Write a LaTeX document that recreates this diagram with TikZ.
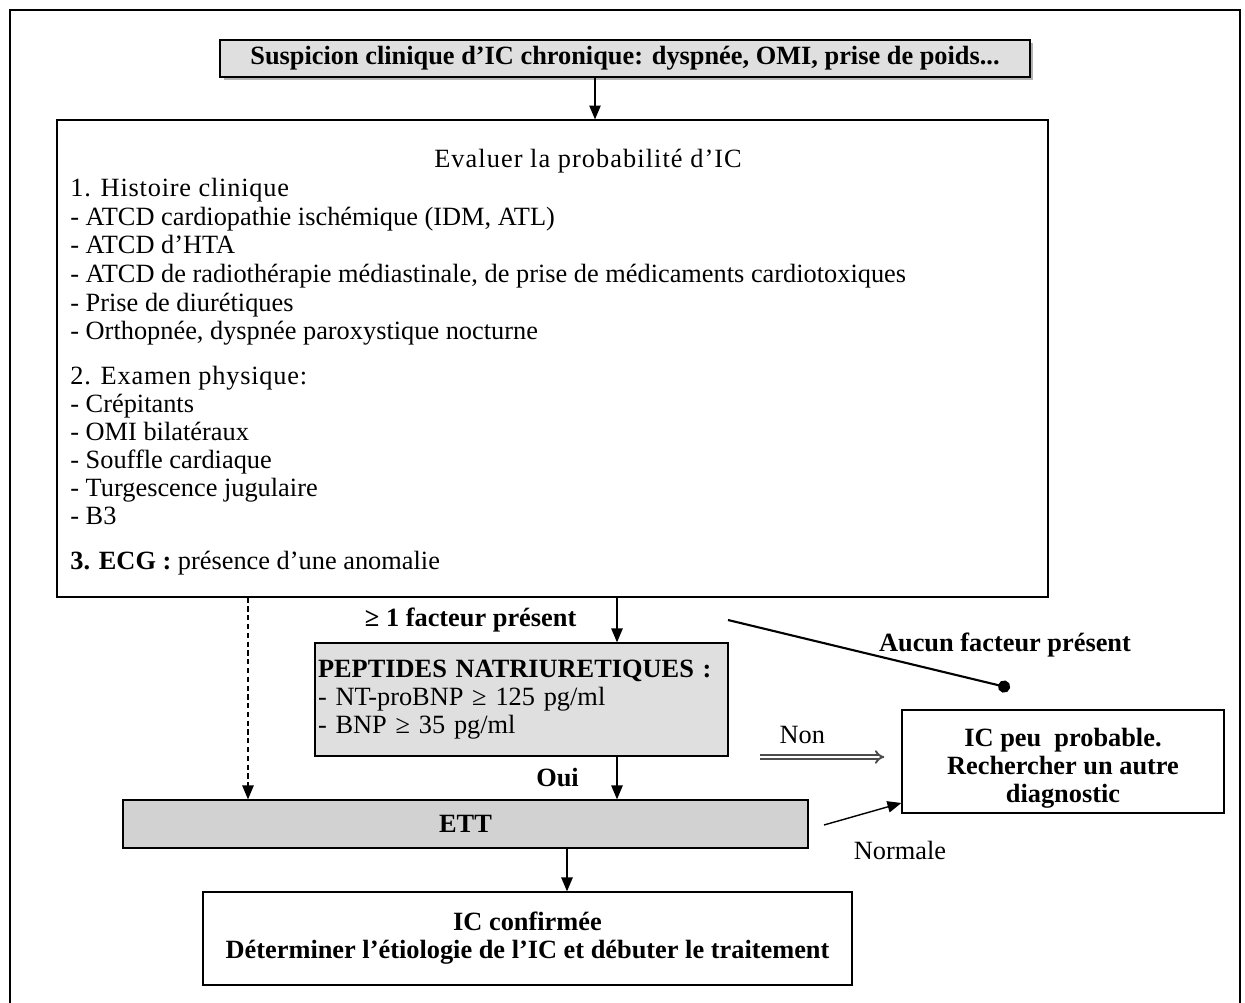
\documentclass[tikz,border=0pt]{standalone}
\usepackage{fontspec}
\setmainfont{Liberation Serif}
\usetikzlibrary{arrows,shadows}

\tikzset{
  box/.style={draw=black, thick, inner sep=0pt, font=\fontsize{15}{16}\selectfont\bfseries},
  greybox/.style={box, fill=gray!25},
  txt/.style={inner sep=0pt, font=\fontsize{15}{16}\selectfont},
  boldtxt/.style={inner sep=0pt, font=\fontsize{15}{16}\selectfont\bfseries},
  flow/.style={thick, -triangle 45},
}

\begin{document}
\begin{tikzpicture}[x=0.02cm, y=-0.02cm]

  \useasboundingbox (0,0) rectangle (1245,1003);

    % Frame
    \draw[very thick] (10,1003) -- (10,10) -- (1240,10) -- (1240,1003);

    % Suspicion
    \node[greybox, drop shadow={shadow xshift=0.07cm, shadow yshift=-0.07cm, opacity=0.6},
      minimum width=16.2cm, minimum height=0.74cm] (susp) at (625,58.5)
      {Suspicion clinique d'IC chronique: dyspnée, OMI, prise de poids...};

    % Evaluer
    \node[box, minimum width=19.82cm, minimum height=9.54cm] (eval) at (552.5,358.5) {};
    \node[txt, anchor=base, font=\fontsize{15}{16}\selectfont\addfontfeatures{LetterSpace=4}] (evaltitle) at (588,168)
      {Evaluer la probabilité d'IC};
    \foreach \yy/\txt in {197/{\addfontfeatures{LetterSpace=3}1. Histoire clinique},
        226/{- ATCD cardiopathie ischémique (IDM, ATL)},
        254/{- ATCD d'HTA},
        283/{- ATCD de radiothérapie médiastinale, de prise de médicaments cardiotoxiques},
        312/{- Prise de diurétiques},
        340/{- Orthopnée, dyspnée paroxystique nocturne},
        385/{\addfontfeatures{LetterSpace=3}2. Examen physique:},
        413/{- Crépitants},
        441/{- OMI bilatéraux},
        469/{- Souffle cardiaque},
        497/{- Turgescence jugulaire},
        525/{- B3},
        570/{\textbf{3. ECG :} présence d'une anomalie}}
      \node[txt, anchor=base west] (item\yy) at (70,\yy) {\txt};

    % Peptides
    \node[greybox, text width=8.14cm, align=left, inner sep=0.06cm, minimum height=2.26cm] (pept) at (521.5,699.5)
      {PEPTIDES NATRIURETIQUES :\\
       {\mdseries - NT-proBNP ≥ 125 pg/ml}\\
       {\mdseries - BNP ≥ 35 pg/ml}};

    % ETT
    \node[greybox, fill=gray!35, minimum width=13.7cm, minimum height=0.96cm] (ett) at (465.5,824) {ETT};

    % IC confirmee
    \node[box, align=center, minimum width=12.98cm, minimum height=1.86cm] (conf) at (527.5,938.5)
      {IC confirmée\\Déterminer l'étiologie de l'IC et débuter le traitement};

    % IC peu probable
    \node[box, align=center, minimum width=6.44cm, minimum height=2.06cm] (unlik) at (1063,761.5)
      {\rule{0pt}{18pt}IC peu\ \ probable.\\Rechercher un autre\\diagnostic};

    % Arrows
    \coordinate (xa) at (595,0);
    \coordinate (xb) at (248,0);
    \coordinate (xc) at (617,0);
    \coordinate (xd) at (567,0);
    \draw[flow] (xa |- susp.south) -- (xa |- eval.north);
    \draw[flow, densely dashed] (xb |- eval.south) -- (xb |- ett.north);
    \draw[flow] (xc |- eval.south) -- (xc |- pept.north)
      node[boldtxt, midway, left=0.8cm] (lblfact) {≥ 1 facteur présent};
    \draw[flow] (xc |- pept.south) -- (xc |- ett.north)
      node[boldtxt, midway, left=0.75cm] (lbloui) {Oui};
    \draw[flow] (xd |- ett.south) -- (xd |- conf.north);

    % Aucun facteur
    \coordinate (aucA) at (728,620);
    \coordinate (aucB) at (1010,688);
    \draw[very thick, -*] (aucA) -- (aucB);
    \node[boldtxt] (lblaucun) at (1005,645) {Aucun facteur présent};

    % Non
    \coordinate (nonA) at (760,757);
    \draw[gray!60!black, line width=1.1pt, double distance=1.4pt, -implies, shorten >=0.34cm] (nonA) -- (unlik.west |- nonA)
      node[txt, black, pos=0.3, above=0.25cm] (lblnon) {Non};

    % Normale
    \coordinate (normA) at (824,825);
    \draw[flow] (normA) -- (unlik.west |- 0,803);
    \node[txt] (lblnorm) at (900,850) {Normale};

\end{tikzpicture}
\end{document}
